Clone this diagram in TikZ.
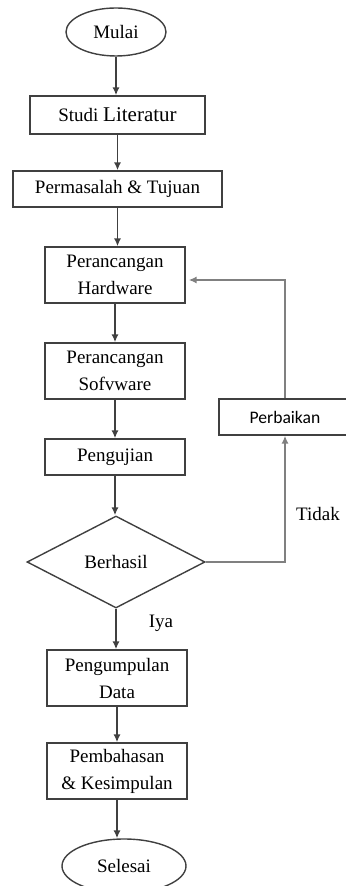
\documentclass[tikz,border=0pt]{standalone}
\usepackage{fontspec}
\setmainfont{Liberation Serif}
\newfontfamily\notefont{Carlito}
\usepackage{tikz}
\usetikzlibrary{arrows.meta,positioning,shapes.geometric}
\definecolor{inkgrey}{RGB}{64,64,64}
\definecolor{loopgrey}{RGB}{128,128,128}
\colorlet{figink}{inkgrey}

\begin{document}
\begin{tikzpicture}[
  x=0.5pt, y=-0.5pt,
  font=\fontsize{9.5}{13.5}\selectfont,
  procbox/.style={draw=figink, line width=0.7pt, align=center, inner sep=0pt,
    minimum width=70pt, minimum height=28pt},
  termbox/.style={draw=figink, line width=0.7pt, ellipse, inner sep=0pt},
  arr/.style={draw=figink, line width=0.8pt, -{Latex[length=4pt,width=3.6pt]}},
  looparr/.style={draw=loopgrey, line width=0.9pt, -{Latex[length=4pt,width=3.6pt]}},
]
  \useasboundingbox (0,0) rectangle (345,886);
  % main column
  \node[termbox, minimum width=50pt, minimum height=24pt] (mulai) at (116,32) {Mulai};
  \node[procbox, minimum width=87.5pt, minimum height=19pt] (studi) at (117.5,115) {Studi {\fontsize{10.5}{13.5}\selectfont Literatur}};
  \node[procbox, minimum width=104.5pt, minimum height=18pt] (masalah) at (117.5,189) {Permasalah \& Tujuan};
  \node[procbox] (hardware) at (115,275) {Perancangan\\Hardware};
  \node[procbox] (software) at (115,371) {Perancangan\\Sofvware};
  \node[procbox, minimum height=18pt] (uji) at (115,457) {Pengujian};
  \node[draw=figink, line width=0.7pt, diamond, inner sep=0pt,
    minimum width=89pt, minimum height=46pt] (berhasil) at (116,562) {Berhasil};
  \node[procbox] (kumpul) at (117,678) {Pengumpulan\\Data};
  \node[procbox] (bahas) at (117,771) {Pembahasan\\\& Kesimpulan};
  \node[termbox, minimum width=62pt, minimum height=27pt] (selesai) at (124,866) {Selesai};
  % side loop
  \node[procbox, minimum width=66pt, minimum height=18pt, font=\notefont\fontsize{8.8}{10}\selectfont] (perbaikan) at (285,417) {Perbaikan};
  \node (tidak) at (318,514) {Tidak};
  \node (iya) at (161,623) {Iya};

  \foreach \a/\b in {mulai/studi, studi/masalah, masalah/hardware, hardware/software,
                     software/uji, uji/berhasil, berhasil/kumpul, kumpul/bahas, bahas/selesai} {
    \draw[arr] (\a.south) -- (\a.south |- \b.north);
  }
  \draw[looparr] (berhasil.east) -| (perbaikan.south);
  \draw[looparr] (perbaikan.north) |- ([xshift=1.5pt,yshift=-2.5pt]hardware.east);
\end{tikzpicture}
\end{document}
